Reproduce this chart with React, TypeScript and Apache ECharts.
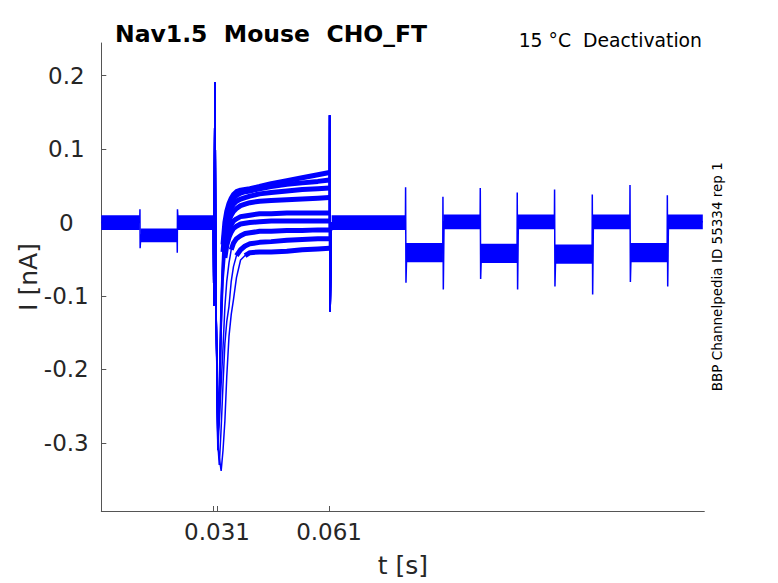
import React, { useEffect, useRef } from "react";
import * as echarts from "echarts";

// ---- axes ----
const X_TICKS = [0.03, 0.031, 0.061];
const X_LABELS = [0.031, 0.061];
const Y_TICKS = [-0.3, -0.2, -0.1, 0, 0.1, 0.2];

// ---- shared holding trace before the test pulse [s], [nA] ----
const preTimes = [0, 0.0103, 0.01035, 0.0104, 0.0106, 0.0203, 0.02035, 0.0204, 0.0206, 0.03];
const preCurrents = [0, 0, 0.018, -0.035, -0.017, -0.017, -0.041, 0.018, 0, 0];

// ---- capacitive transient at the test pulse (same in every sweep) ----
const onsetTimes = [0.03, 0.03015, 0.0302, 0.03045, 0.0307];
const onsetCurrents = [0, -0.113, -0.02, 0.191, -0.1];

// ---- tail currents, one list per sweep, sampled at tailTimes ----
const tailTimes = [0.0312, 0.0316, 0.0321, 0.0326, 0.0331, 0.0336, 0.0342, 0.0348, 0.0354, 0.0362, 0.0373, 0.0385, 0.0398, 0.0424, 0.0455, 0.0497, 0.0538, 0.058, 0.0611];
const sweepA = [-0.27, -0.22, -0.1, -0.03, 0.0, 0.015, 0.026, 0.033, 0.038, 0.042, 0.044, 0.045, 0.046, 0.049, 0.053, 0.057, 0.061, 0.065, 0.068];
const sweepB = [-0.28, -0.23, -0.11, -0.04, -0.01, 0.008, 0.02, 0.028, 0.033, 0.037, 0.04, 0.042, 0.043, 0.046, 0.049, 0.052, 0.054, 0.056, 0.058];
const sweepC = [-0.285, -0.24, -0.12, -0.05, -0.017, 0.002, 0.013, 0.02, 0.025, 0.029, 0.032, 0.034, 0.036, 0.039, 0.041, 0.043, 0.045, 0.046, 0.047];
const sweepD = [-0.29, -0.25, -0.13, -0.06, -0.027, -0.009, 0.003, 0.01, 0.015, 0.019, 0.023, 0.025, 0.027, 0.029, 0.03, 0.031, 0.032, 0.033, 0.034];
const sweepE = [-0.29, -0.26, -0.14, -0.07, -0.038, -0.021, -0.01, -0.003, 0.002, 0.005, 0.008, 0.009, 0.01, 0.012, 0.012, 0.013, 0.013, 0.013, 0.013];
const sweepF = [-0.29, -0.27, -0.15, -0.08, -0.048, -0.031, -0.02, -0.013, -0.008, -0.005, -0.002, -0.001, 0.0, 0.001, 0.002, 0.002, 0.002, 0.002, 0.002];
const sweepG = [-0.31, -0.27, -0.22, -0.17, -0.115, -0.08, -0.055, -0.037, -0.028, -0.022, -0.018, -0.015, -0.014, -0.012, -0.012, -0.011, -0.011, -0.01, -0.01];
const sweepH = [-0.3, -0.33, -0.28, -0.22, -0.165, -0.135, -0.114, -0.08, -0.06, -0.045, -0.037, -0.032, -0.029, -0.027, -0.026, -0.024, -0.023, -0.022, -0.022];
const sweepI = [-0.3, -0.32, -0.338, -0.31, -0.27, -0.21, -0.155, -0.125, -0.105, -0.075, -0.051, -0.045, -0.041, -0.04, -0.04, -0.039, -0.037, -0.036, -0.035];
const sweeps = [sweepA, sweepB, sweepC, sweepD, sweepE, sweepF, sweepG, sweepH, sweepI];

// ---- return to holding at 0.061 s ----
const offTimes = [0.06115, 0.0613, 0.0616, 0.0618];
const offCurrents = [0.146, -0.121, -0.01, 0];

// ---- pulse train after 0.08 s ----
const trainStepTimes = [0.0815, 0.0915, 0.1015, 0.1114, 0.1214, 0.1315, 0.1416, 0.1516];
const trainLevels = [-0.041, 0.001, -0.042, 0.001, -0.043, 0.001, -0.041, 0.001];
const trainSpikeTop = [0.048, 0.035, 0.047, 0.041, 0.045, 0.038, 0.051, 0.037];
const trainSpikeBottom = [-0.082, -0.091, -0.077, -0.091, -0.087, -0.098, -0.081, -0.087];
const traceEnd = 0.1611;

// ---- recording-noise envelope of the overlapping sweeps ----
const bandStart = [0, 0.0105, 0.0205, 0.0617, 0.0816, 0.0916, 0.1016, 0.1115, 0.1215, 0.1316, 0.1417, 0.1517];
const bandEnd = [0.0103, 0.0203, 0.03, 0.0815, 0.0915, 0.1015, 0.1114, 0.1214, 0.1315, 0.1416, 0.1516, 0.1611];
const bandLow = [-0.01, -0.027, -0.01, -0.01, -0.054, -0.009, -0.055, -0.009, -0.056, -0.009, -0.054, -0.009];
const bandHigh = [0.01, -0.008, 0.01, 0.01, -0.028, 0.011, -0.029, 0.011, -0.03, 0.011, -0.028, 0.011];

const BLUE = "#0000ff";
const FONT = '"DejaVu Sans", "Liberation Sans", sans-serif';

function zip(t: number[], v: number[]) {
  return t.map((x, i) => [x, v[i]]);
}

export default function App() {
  const ref = useRef<HTMLDivElement>(null);
  useEffect(() => {
    if (!ref.current) return;
    const chart = echarts.init(ref.current, undefined, { renderer: "svg" });

    const post: number[][] = [[0.0618, 0]];
    let prev = 0;
    trainStepTimes.forEach((T, i) => {
      post.push([T - 0.00005, prev]);
      post.push([T, trainSpikeTop[i]]);
      post.push([T + 0.0001, trainSpikeBottom[i]]);
      post.push([T + 0.0003, trainLevels[i]]);
      prev = trainLevels[i];
    });
    post.push([traceEnd, prev]);

    const series: any[] = [];
    series.push({
      type: "custom",
      data: bandStart.map((s, i) => [s, bandEnd[i], bandLow[i], bandHigh[i]]),
      encode: { x: [0, 1], y: [2, 3] },
      renderItem: (_p: any, api: any) => {
        const a = api.coord([api.value(0), api.value(3)]);
        const b = api.coord([api.value(1), api.value(2)]);
        return {
          type: "rect",
          shape: { x: a[0], y: a[1], width: b[0] - a[0], height: b[1] - a[1] },
          style: { fill: BLUE },
        };
      },
      silent: true,
    });
    const lineBase = {
      type: "line",
      showSymbol: false,
      symbol: "none",
      silent: true,
      color: BLUE,
    };
    series.push({ ...lineBase, data: zip(preTimes, preCurrents), lineStyle: { width: 1.5, color: BLUE } });
    series.push({ ...lineBase, data: post, lineStyle: { width: 1.5, color: BLUE } });
    sweeps.forEach((sw) => {
      const data = [
        ...zip(onsetTimes, onsetCurrents),
        ...zip(tailTimes, sw),
        ...zip(offTimes, offCurrents),
      ];
      series.push({ ...lineBase, data, lineStyle: { width: 1.5, color: BLUE } });
      const k = sw.findIndex((v) => v > -0.05);
      series.push({
        ...lineBase,
        data: zip(tailTimes.slice(k), sw.slice(k)),
        lineStyle: { width: 5, color: BLUE, join: "round" },
      });
    });

    const axisColor = "#555555";
    const textColor = "#262626";
    chart.setOption({
      animation: false,
      grid: { left: 101.3, right: 73.7, top: 43, bottom: 70.7 },
      xAxis: {
        type: "value",
        min: 0,
        max: 0.1615,
        name: "t [s]",
        nameLocation: "middle",
        nameGap: 42,
        nameMoveOverlap: false,
        nameTextStyle: { fontSize: 25, color: textColor, fontFamily: FONT },
        axisLine: { show: true, onZero: false, lineStyle: { color: axisColor, width: 1 } },
        axisTick: { show: true, inside: true, length: 5, customValues: X_TICKS, lineStyle: { color: axisColor } },
        axisLabel: {
          customValues: X_LABELS,
          formatter: (v: number) => v.toFixed(3),
          fontSize: 23,
          color: textColor,
          fontFamily: FONT,
          margin: 9,
        },
        splitLine: { show: false },
      },
      yAxis: {
        type: "value",
        min: -0.3927,
        max: 0.2444,
        name: "I [nA]",
        nameLocation: "middle",
        nameGap: 60,
        nameMoveOverlap: false,
        nameRotate: 90,
        nameTextStyle: { fontSize: 25, color: textColor, fontFamily: FONT },
        axisLine: { show: true, onZero: false, lineStyle: { color: axisColor, width: 1 } },
        axisTick: { show: true, inside: true, length: 5, customValues: Y_TICKS, lineStyle: { color: axisColor } },
        axisLabel: {
          customValues: Y_TICKS,
          formatter: (v: number) => String(Number(v.toFixed(1))),
          fontSize: 23,
          color: textColor,
          fontFamily: FONT,
          align: "center",
          margin: 35,
        },
        splitLine: { show: false },
      },
      graphic: [
        {
          type: "text",
          x: 115,
          y: 34,
          style: {
            text: "Nav1.5  Mouse  CHO_FT",
            font: `bold 23.5px ${FONT}`,
            fill: "#000000",
            align: "left",
            verticalAlign: "middle",
          },
        },
        {
          type: "text",
          x: 702,
          y: 40.3,
          style: {
            text: "15 °C  Deactivation",
            font: `18.8px ${FONT}`,
            fill: "#000000",
            align: "right",
            verticalAlign: "middle",
          },
        },
        {
          type: "text",
          x: 717,
          y: 276.7,
          rotation: Math.PI / 2,
          style: {
            text: "BBP Channelpedia ID 55334 rep 1",
            font: `13.5px ${FONT}`,
            fill: "#000000",
            align: "center",
            verticalAlign: "middle",
          },
        },
      ],
      series,
    });
    return () => chart.dispose();
  }, []);
  return (
    <div
      ref={ref}
      style={{ position: "absolute", left: 0, top: 0, width: 778, height: 583, background: "#ffffff" }}
    />
  );
}
